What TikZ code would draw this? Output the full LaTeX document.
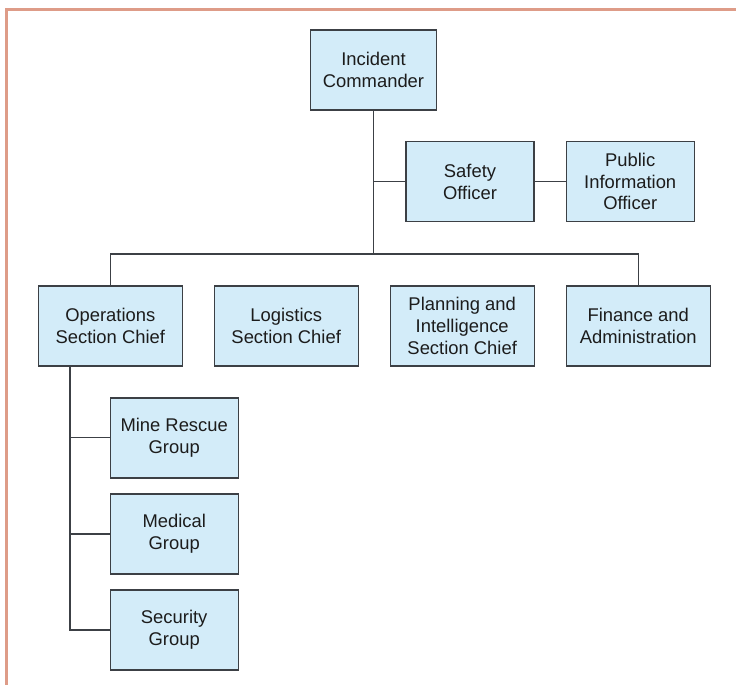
\documentclass[tikz,border=0pt]{standalone}
\usepackage{fontspec}
\setmainfont{Liberation Sans}
\definecolor{boxfill}{HTML}{D3ECF9}
\definecolor{boxline}{HTML}{3C4045}
\definecolor{frame}{HTML}{DE9C88}
\definecolor{txt}{HTML}{1C1C1C}
\begin{document}
\begin{tikzpicture}[x=1pt,y=-1pt,
  orgbox/.style={draw=boxline, fill=boxfill, line width=1.4pt, minimum width=128pt, minimum height=80pt, inner sep=0pt, align=center, text=txt, font=\fontsize{18.4}{21.7}\selectfont},
  widebox/.style={orgbox, minimum width=144pt},
  link/.style={draw=boxline, line width=1.3pt}]
\useasboundingbox (0,0) rectangle (736,685);
\draw[frame, line width=3pt] (6,686) -- (6,10) -- (737,10);
\node[orgbox, minimum width=126pt] (ic) at (373.5,70) {Incident\\Commander};
\node[orgbox] (safety) at (470,181.7) {Safety\\Officer};
\node[orgbox] (pio) at (630.2,181.7) {Public\\Information\\Officer};
\node[widebox] (ops) at (110.3,326) {Operations\\Section Chief};
\node[widebox] (log) at (286.2,326) {Logistics\\Section Chief};
\node[widebox] (plan) at (462.2,326) {Planning and\\Intelligence\\Section Chief};
\node[widebox] (fin) at (638.2,326) {Finance and\\Administration};
\node[orgbox] (mine) at (174.2,437.8) {Mine Rescue\\Group};
\node[orgbox] (med) at (174.2,534) {Medical\\Group};
\node[orgbox] (sec) at (174.2,630) {Security\\Group};
\coordinate (bus) at (0,254);
\coordinate (opsx) at (70,0);
\draw[link] (ic.south) -- (ic.south |- bus);
\draw[link] (ops.north) -- (ops.north |- bus) -- (fin.north |- bus) -- (fin.north);
\draw[link] (safety.west) -- (safety.west -| ic.south);
\draw[link] (safety.east) -- (pio.west);
\draw[link] (ops.south -| opsx) -- (sec.west -| opsx) -- (sec.west);
\draw[link] (mine.west) -- (mine.west -| opsx);
\draw[link] (med.west) -- (med.west -| opsx);
\end{tikzpicture}
\end{document}
